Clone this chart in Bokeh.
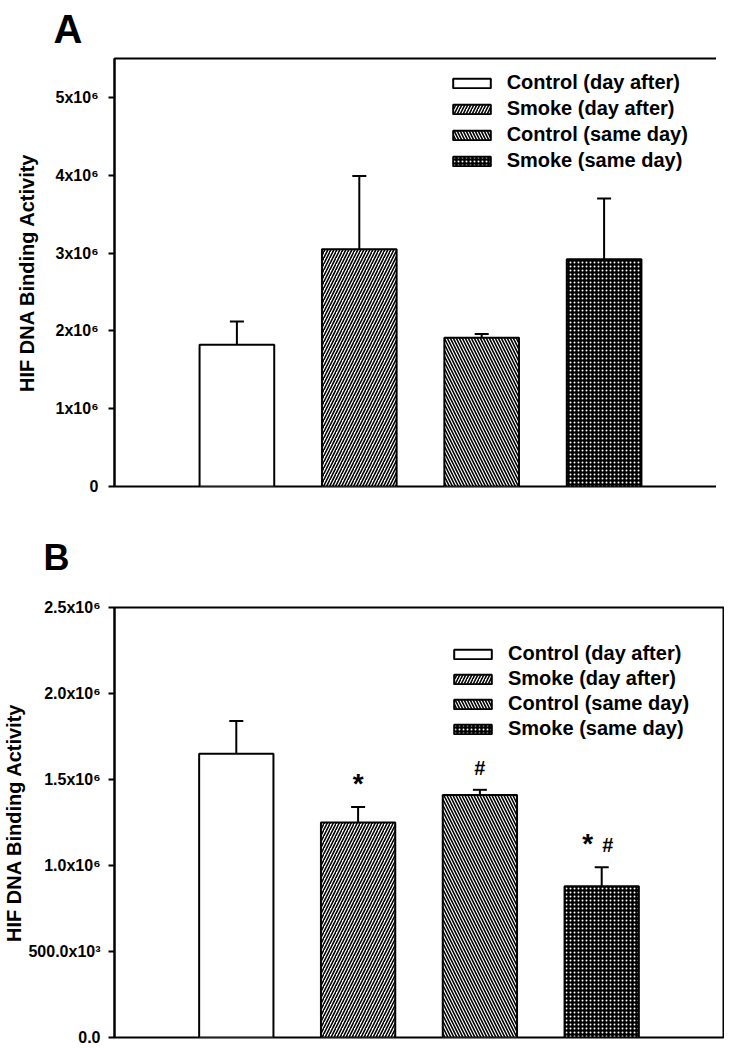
from bokeh.plotting import figure
from bokeh.layouts import column
from bokeh.models import Range1d, FixedTicker, Whisker, TeeHead, ColumnDataSource
from bokeh.core.properties import value
from bokeh.embed import file_html
from bokeh.resources import INLINE

# ---------------- data ----------------
groups = ["Control (day after)", "Smoke (day after)", "Control (same day)", "Smoke (same day)"]
positions = [1, 2, 3, 4]

a_means = [1.82e6, 3.05e6, 1.91e6, 2.92e6]
a_errors = [0.30e6, 0.94e6, 0.05e6, 0.78e6]

b_means = [1.65e6, 1.25e6, 1.41e6, 0.88e6]
b_errors = [0.19e6, 0.09e6, 0.03e6, 0.11e6]

a_ticks = [0, 1e6, 2e6, 3e6, 4e6, 5e6]
a_tick_labels = ["0", "1x10⁶", "2x10⁶", "3x10⁶", "4x10⁶", "5x10⁶"]
b_ticks = [0, 0.5e6, 1.0e6, 1.5e6, 2.0e6, 2.5e6]
b_tick_labels = ["0.0", "500.0x10³", "1.0x10⁶", "1.5x10⁶", "2.0x10⁶", "2.5x10⁶"]

# significance marks in panel B (bar index, symbol)
sig_bar = [1, 2, 3, 3]
sig_text = ["*", "#", "*", "#"]

y_label = "HIF DNA Binding Activity"
FONT = "Liberation Sans"

styles = [
    dict(fill_color="white"),
    dict(fill_color="white", hatch_pattern="/", hatch_color="black", hatch_scale=6, hatch_weight=1.6),
    dict(fill_color="white", hatch_pattern="\\", hatch_color="black", hatch_scale=6, hatch_weight=1.6),
    dict(fill_color="black", hatch_pattern=".", hatch_color="white", hatch_scale=4, hatch_weight=0.6),
]


def make_panel(means, errors, ticks, tick_labels, ymax, fw, fh, mb_left, mb_top, mb_bottom,
               letter, letter_size, letter_offset, letter_standoff,
               tick_standoff, label_standoff, legend_loc, legend_spacing):
    p = figure(frame_width=fw, frame_height=fh, x_range=Range1d(0, 5), y_range=Range1d(0, ymax),
               output_backend="svg", toolbar_location=None,
               min_border_left=mb_left, min_border_right=1, min_border_top=mb_top,
               min_border_bottom=mb_bottom)
    p.xaxis.visible = False
    p.grid.visible = False
    p.outline_line_color = "black"
    p.outline_line_width = 2
    p.outline_line_alpha = 1.0
    p.background_fill_color = "white"

    p.title.text = letter
    p.title.text_font = FONT
    p.title.text_font_style = "bold"
    p.title.text_font_size = letter_size
    p.title.text_color = "black"
    p.title.align = "left"
    p.title.offset = letter_offset
    p.title.standoff = letter_standoff
    p.title.vertical_align = "top"

    ax = p.yaxis[0]
    ax.ticker = FixedTicker(ticks=ticks)
    ax.major_label_overrides = {t: l for t, l in zip(ticks, tick_labels)}
    ax.minor_tick_line_color = None
    ax.major_tick_in = 0
    ax.major_tick_out = 6
    ax.major_tick_line_width = 2
    ax.major_tick_line_color = "black"
    ax.axis_line_width = 2
    ax.axis_line_color = "black"
    ax.major_label_text_font = FONT
    ax.major_label_text_font_style = "bold"
    ax.major_label_text_font_size = "16px"
    ax.major_label_text_color = "black"
    ax.major_label_standoff = tick_standoff
    ax.axis_label = y_label
    ax.axis_label_text_font = FONT
    ax.axis_label_text_font_style = "bold"
    ax.axis_label_text_font_size = "20px"
    ax.axis_label_text_color = "black"
    ax.axis_label_standoff = label_standoff

    for i, g in enumerate(groups):
        p.vbar(x=[positions[i]], top=[means[i]], width=0.61, bottom=0,
               line_color="black", line_width=2, legend_label=g, **styles[i])

    src = ColumnDataSource(dict(x=positions, lower=means,
                                upper=[m + e for m, e in zip(means, errors)]))
    w = Whisker(base="x", upper="upper", lower="lower", source=src,
                line_color="black", line_width=2,
                upper_head=TeeHead(size=14, line_width=2, line_color="black"),
                lower_head=None)
    p.add_layout(w)

    lg = p.legend[0]
    lg.location = legend_loc
    lg.padding = 0
    lg.margin = 0
    lg.border_line_alpha = 0
    lg.background_fill_alpha = 0
    lg.glyph_width = 47
    lg.glyph_height = 12
    lg.label_standoff = 12
    lg.label_height = 20
    lg.spacing = legend_spacing
    lg.label_text_font = FONT
    lg.label_text_font_style = "bold"
    lg.label_text_font_size = "20px"
    lg.label_text_color = "black"
    return p


pA = make_panel(a_means, a_errors, a_ticks, a_tick_labels, 5.5e6, 612, 428, 103, 58, 20,
                "A", "40px", -61, 11, 10, 15, (345, 314), 3)

pB = make_panel(b_means, b_errors, b_ticks, b_tick_labels, 2.5e6, 609, 430, 106, 101, 9,
                "B", "36px", -71, 56, 8, 0, (335, 297), 2)

star_src = ColumnDataSource(dict(
    x=[positions[sig_bar[k]] for k in range(len(sig_text)) if sig_text[k] == "*"],
    y=[b_means[sig_bar[k]] + b_errors[sig_bar[k]] for k in range(len(sig_text)) if sig_text[k] == "*"],
    text=[t for t in sig_text if t == "*"],
    dx=[-14 if sig_bar[k] == 3 else 0 for k in range(len(sig_text)) if sig_text[k] == "*"],
))
hash_src = ColumnDataSource(dict(
    x=[positions[sig_bar[k]] for k in range(len(sig_text)) if sig_text[k] == "#"],
    y=[b_means[sig_bar[k]] + b_errors[sig_bar[k]] for k in range(len(sig_text)) if sig_text[k] == "#"],
    text=[t for t in sig_text if t == "#"],
    dx=[6 if sig_bar[k] == 3 else 0 for k in range(len(sig_text)) if sig_text[k] == "#"],
))
pB.text(x="x", y="y", text="text", source=star_src, x_offset="dx", y_offset=-24,
        text_font=value(FONT), text_font_style="bold", text_font_size="28px",
        text_align="center", text_baseline="middle", text_color="black")
pB.text(x="x", y="y", text="text", source=hash_src, x_offset="dx", y_offset=-22,
        text_font=value(FONT), text_font_style="bold", text_font_size="20px",
        text_align="center", text_baseline="middle", text_color="black")

layout = column(pA, pB)
open("out.html", "w").write(file_html(layout, INLINE))
